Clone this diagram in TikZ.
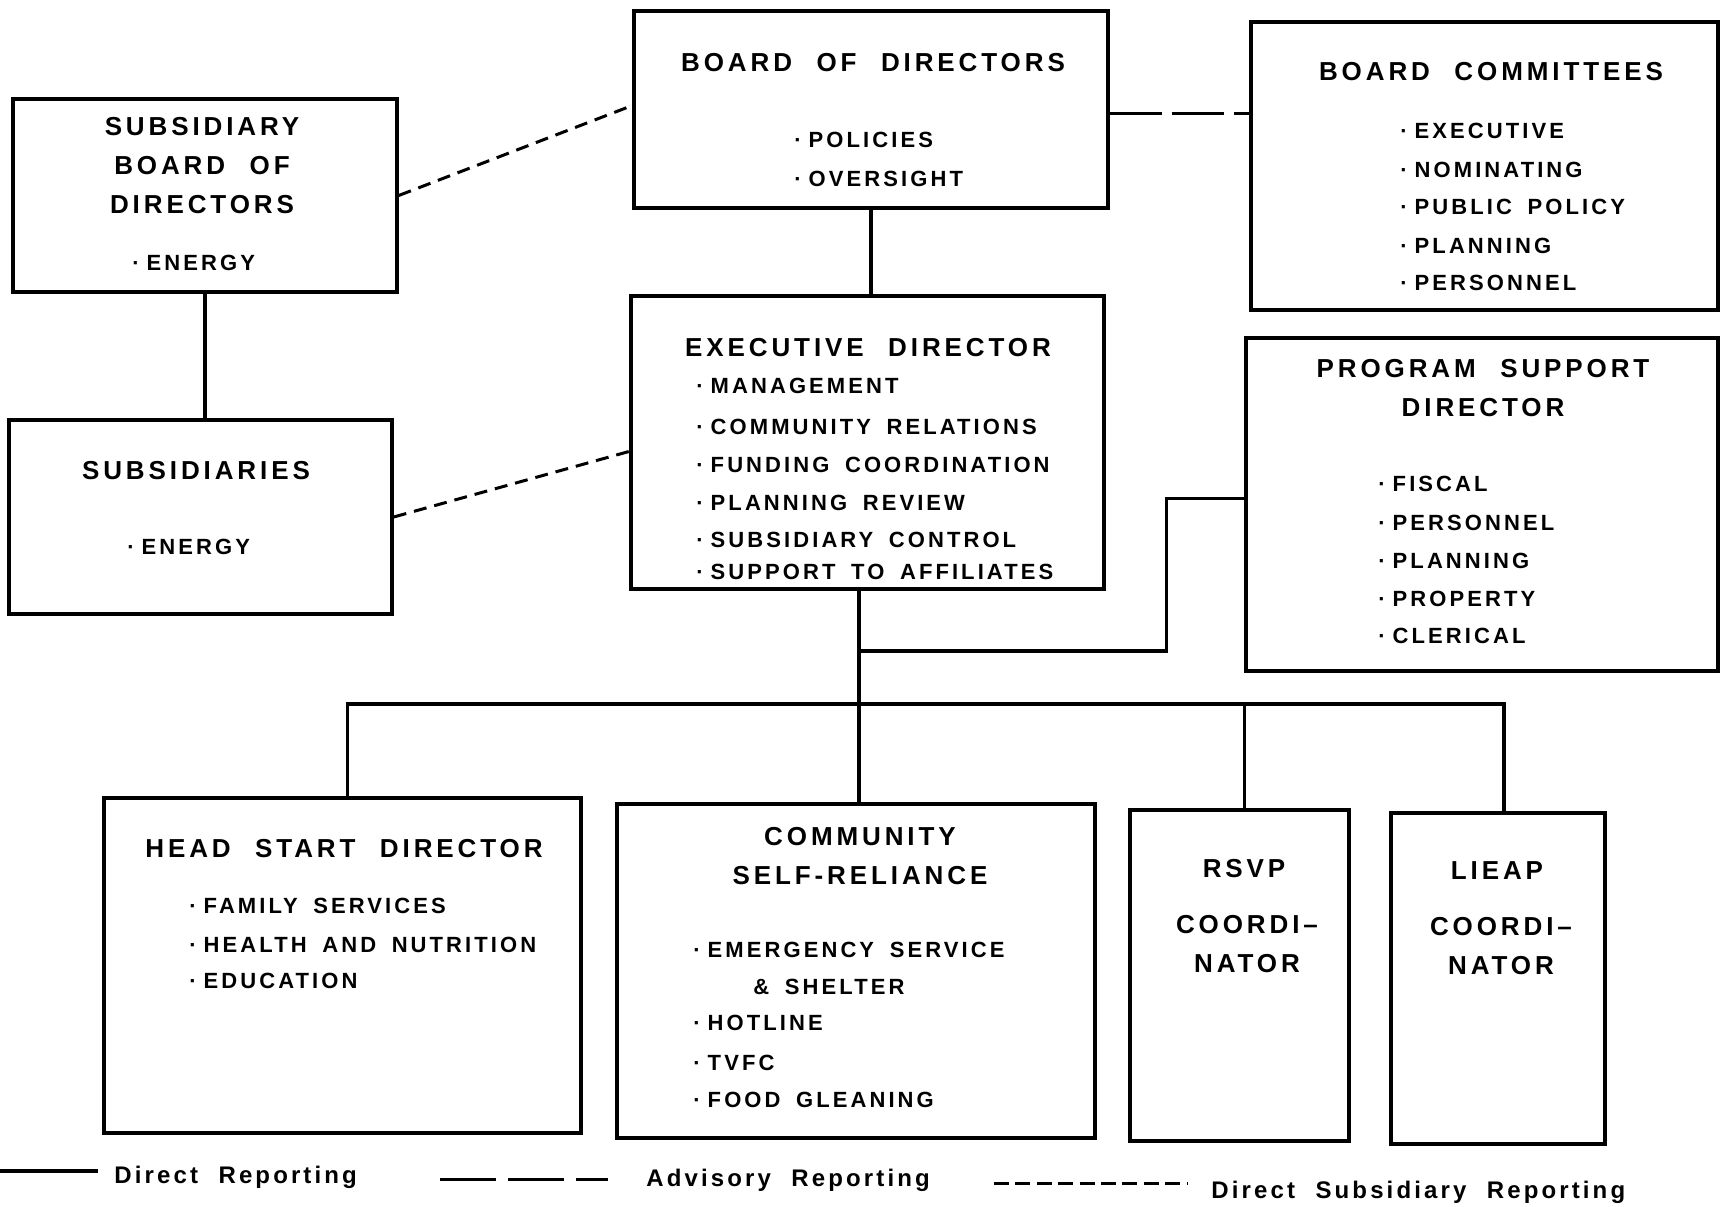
\documentclass[tikz,border=0pt]{standalone}
\usepackage{fontspec}
\setmainfont{Liberation Sans}
\newfontfamily\ttlfont[LetterSpace=15, WordSpace=2.2]{Liberation Sans}
\newfontfamily\itmfont[LetterSpace=14, WordSpace=1.7]{Liberation Sans}
\newfontfamily\legfont[LetterSpace=13, WordSpace=2.1]{Liberation Sans}
\newcommand{\dotitem}[1]{·\kern3.5pt#1}
\usetikzlibrary{fit,calc}

\tikzset{
  box/.style={draw, line width=1.7pt, inner sep=0pt},
  ttl/.style={font=\ttlfont\bfseries\fontsize{13}{19.5}\selectfont, inner sep=0pt, align=center},
  itm/.style={font=\itmfont\bfseries\fontsize{11}{13}\selectfont, inner sep=0pt, anchor=west},
  leg/.style={font=\legfont\bfseries\fontsize{12}{14}\selectfont, inner sep=0pt, anchor=base west},
  direct/.style={line width=1.7pt},
  advisory/.style={line width=1.6pt, dash pattern=on 26pt off 5pt},
  subsid/.style={line width=1.5pt, dash pattern=on 6.5pt off 4pt},
}

\begin{document}
\begin{tikzpicture}[x=0.5pt, y=-0.5pt]
        \useasboundingbox (0,0) rectangle (1720,1206);

        % Draw the boxes
        \node[box, fit={(634,11) (1108,208)}] (bod) {};
        \node[box, fit={(1251,22) (1718,310)}] (bc) {};
        \node[box, fit={(13,99) (397,292)}] (sbd) {};
        \node[box, fit={(9,420) (392,614)}] (subs) {};
        \node[box, fit={(631,296) (1104,589)}] (ed) {};
        \node[box, fit={(1246,338) (1718,671)}] (psd) {};
        \node[box, fit={(104,798) (581,1133)}] (hs) {};
        \node[box, fit={(617,804) (1095,1138)}] (comm) {};
        \node[box, fit={(1130,810) (1349,1141)}] (rsvp) {};
        \node[box, fit={(1391,813) (1605,1144)}] (lieap) {};

        % Board of directors
        \node[ttl] (bodT) at (873,63) {BOARD OF DIRECTORS};
        \foreach \t/\y [count=\i] in {POLICIES/140, OVERSIGHT/179}
          \node[itm] (bod\i) at (794,\y) {\dotitem{\t}};

        % Board committees
        \node[ttl] (bcT) at (1491,72) {BOARD COMMITTEES};
        \foreach \t/\y [count=\i] in {EXECUTIVE/131, NOMINATING/170, PUBLIC POLICY/207, PLANNING/246, PERSONNEL/283}
          \node[itm] (bc\i) at (1400,\y) {\dotitem{\t}};

        % Subsidiary board and subsidiaries
        \node[ttl] (sbdT) at (202,166) {SUBSIDIARY\\BOARD OF\\DIRECTORS};
        \node[itm] (sbd1) at (132,263) {\dotitem{ENERGY}};
        \node[ttl] (subsT) at (196,471) {SUBSIDIARIES};
        \node[itm] (subs1) at (127,547) {\dotitem{ENERGY}};

        % Executive director
        \node[ttl] (edT) at (868,348) {EXECUTIVE DIRECTOR};
        \foreach \t/\y [count=\i] in {MANAGEMENT/386, COMMUNITY RELATIONS/427, FUNDING COORDINATION/465,
            PLANNING REVIEW/503, SUBSIDIARY CONTROL/540, SUPPORT TO AFFILIATES/572}
          \node[itm] (ed\i) at (696,\y) {\dotitem{\t}};

        % Program support director
        \node[ttl] (psdT) at (1483,388) {PROGRAM SUPPORT\\DIRECTOR};
        \foreach \t/\y [count=\i] in {FISCAL/484, PERSONNEL/523, PLANNING/561, PROPERTY/599, CLERICAL/636}
          \node[itm] (psd\i) at (1378,\y) {\dotitem{\t}};

        % Head start director
        \node[ttl] (hsT) at (344,849) {HEAD START DIRECTOR};
        \foreach \t/\y [count=\i] in {FAMILY SERVICES/906, HEALTH AND NUTRITION/945, EDUCATION/981}
          \node[itm] (hs\i) at (189,\y) {\dotitem{\t}};

        % Community self-reliance
        \node[ttl] (commT) at (860,856) {COMMUNITY\\SELF-RELIANCE};
        \node[itm] (comm1) at (693,950) {\dotitem{EMERGENCY SERVICE}};
        \node[itm] (comm2) at (753,987) {\& SHELTER};
        \foreach \t/\y [count=\i from 3] in {HOTLINE/1023, TVFC/1063, FOOD GLEANING/1100}
          \node[itm] (comm\i) at (693,\y) {\dotitem{\t}};

        % Coordinators
        \node[ttl] (rsvpT) at (1244,869) {RSVP};
        \node[ttl] (rsvpC) at (1247,944) {COORDI–\\NATOR};
        \node[ttl] (lieapT) at (1497,871) {LIEAP};
        \node[ttl] (lieapC) at (1501,946) {COORDI–\\NATOR};

        % Direct reporting lines
        \draw[direct] (bod.south) -- (bod.south |- ed.north);
        \draw[direct] (sbd.south) -- (sbd.south |- subs.north);
        \coordinate (stem) at ($(comm.north)+(3,0)$);
        \coordinate (tap) at (stem |- 0,651);
        \coordinate (bus) at (0,704);
        \draw[direct] (stem |- ed.south) -- (stem);
        \draw[direct] (tap) -| ($(psd.west)+(-78,-6)$) -- ($(psd.west)+(0,-6)$);
        \draw[direct] ($(hs.north)+(5,0)$) |- (bus -| lieap.north) -- ++(6,0) -- ($(lieap.north)+(6,0)$);
        \draw[direct] ($(rsvp.north |- bus)+(5,0)$) -- ($(rsvp.north)+(5,0)$);

        % Advisory and subsidiary lines
        \draw[advisory] ($(bod.east)+(0,4)$) -- ($(bod.east -| bc.west)+(0,4)$);
        \draw[subsid] (sbd.east) -- ($(bod.north west)!0.48!(bod.south west)$);
        \draw[subsid] (subs.east) -- ($(ed.north west)!0.53!(ed.south west)$);

        % Legend
        \coordinate (lg1a) at (0,1171);
        \coordinate (lg1b) at (98,1171);
        \coordinate (lg2a) at (440,1179);
        \coordinate (lg2b) at (608,1179);
        \coordinate (lg3a) at (994,1183);
        \coordinate (lg3b) at (1188,1183);
        \draw[direct] (lg1a) -- (lg1b);
        \draw[line width=1.5pt, dash pattern=on 28pt off 6pt] (lg2a) -- (lg2b);
        \draw[line width=1.5pt, dash pattern=on 7.5pt off 3.2pt] (lg3a) -- (lg3b);
        \node[leg] (lgD) at (114,1183) {Direct Reporting};
        \node[leg] (lgA) at (646,1186) {Advisory Reporting};
        \node[leg] (lgS) at (1211,1198) {Direct Subsidiary Reporting};
\end{tikzpicture}
\end{document}
